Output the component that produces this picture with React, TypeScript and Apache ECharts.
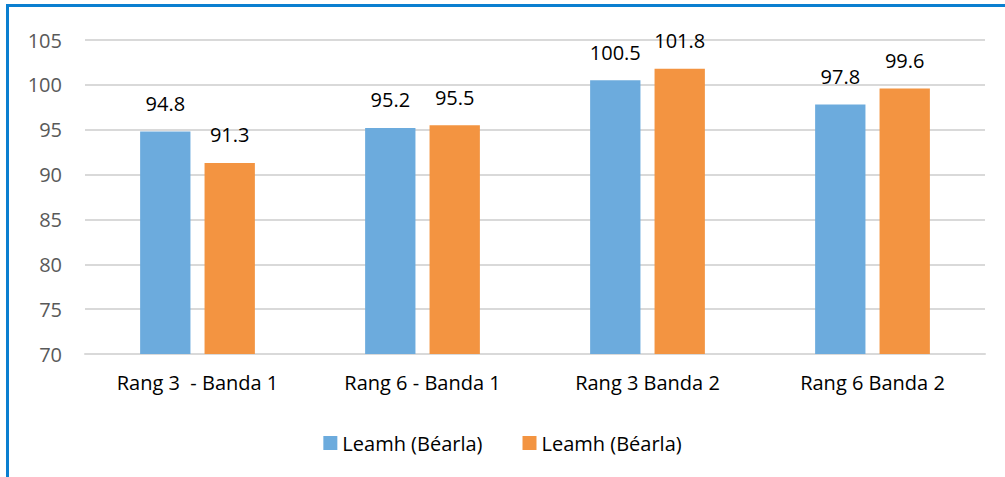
import React, { useEffect, useRef } from "react";
import * as echarts from "echarts";

const categories = ["Rang 3  - Banda 1", "Rang 6 - Banda 1", "Rang 3 Banda 2", "Rang 6 Banda 2"];
const seriesNames = ["Leamh (Béarla)", "Leamh (Béarla)"];
const seriesA = [94.8, 95.2, 100.5, 97.8];
const seriesB = [91.3, 95.5, 101.8, 99.6];
const yTicks = { min: 70, max: 105, interval: 5 };

const FONT = "'Open Sans', 'Noto Sans', sans-serif";
const FS = 20;

export default function App() {
  const ref = useRef<HTMLDivElement>(null);
  useEffect(() => {
    const chart = echarts.init(ref.current!, undefined, { renderer: "svg" });
    chart.setOption({
      animation: false,
      backgroundColor: "#ffffff",
      textStyle: { fontFamily: FONT },
      graphic: [
        {
          type: "rect",
          shape: { x: 7.5, y: 5.5, width: 1100, height: 600 },
          style: { fill: "none", stroke: "#0A7FD0", lineWidth: 3 },
          silent: true,
        },
      ],
      grid: { left: 85, right: 20, top: 40, bottom: 123, containLabel: false },
      legend: {
        bottom: 19,
        left: "center",
        itemWidth: 14,
        itemHeight: 14,
        itemGap: 40,
        icon: "rect",
        textStyle: { fontFamily: FONT, fontSize: FS, color: "#000" },
        data: [
          { name: "A", itemStyle: { color: "#6CABDD" } },
          { name: "B", itemStyle: { color: "#F39441" } },
        ],
        formatter: (n: string) => (n === "A" ? seriesNames[0] : seriesNames[1]),
      },
      xAxis: {
        type: "category",
        data: categories,
        axisLine: { lineStyle: { color: "#D9D9D9", width: 2 } },
        axisTick: { show: false },
        axisLabel: { color: "#000", fontSize: FS, fontFamily: FONT, margin: 18 },
      },
      yAxis: {
        type: "value",
        min: yTicks.min,
        max: yTicks.max,
        interval: yTicks.interval,
        axisLine: { show: false },
        axisTick: { show: false },
        splitLine: { lineStyle: { color: "#D9D9D9", width: 2 } },
        axisLabel: { color: "#595959", fontSize: FS, fontFamily: FONT, margin: 23 },
      },
      series: [
        {
          name: "A",
          type: "bar",
          data: seriesA,
          barGap: "28%",
          barCategoryGap: "49%",
          itemStyle: { color: "#6CABDD" },
          label: { show: true, position: "top", distance: 18, color: "#000", fontSize: FS, fontFamily: FONT },
        },
        {
          name: "B",
          type: "bar",
          data: seriesB,
          barGap: "28%",
          barCategoryGap: "49%",
          itemStyle: { color: "#F39441" },
          label: { show: true, position: "top", distance: 18, color: "#000", fontSize: FS, fontFamily: FONT },
        },
      ],
    });
    return () => chart.dispose();
  }, []);
  return (
    <div
      ref={ref}
      style={{ position: "fixed", left: 0, top: 0, width: 1005, height: 477 }}
    />
  );
}
